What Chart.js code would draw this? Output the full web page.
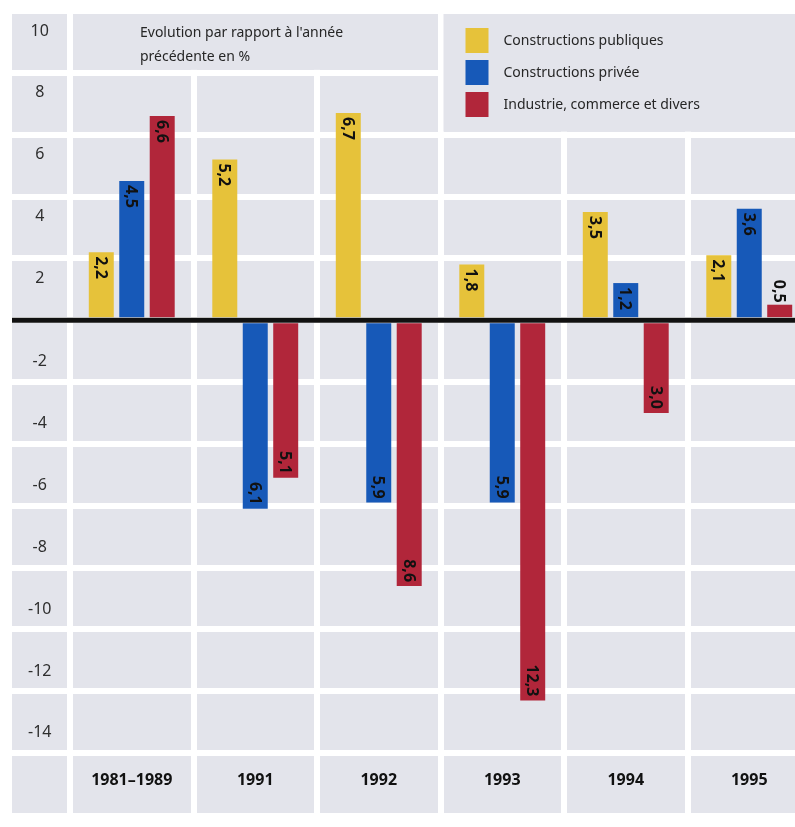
<!DOCTYPE html>
<html>
<head>
<meta charset="utf-8">
<script src="https://cdn.jsdelivr.net/npm/chart.js@4"></script>
<style>
  html, body { margin: 0; padding: 0; background: #fff; overflow: hidden; }
  #wrap { position: relative; width: 814px; height: 827px; }
</style>
</head>
<body>
<div id="wrap"><canvas id="chart"></canvas></div>
<script>
const categories = ["1981–1989", "1991", "1992", "1993", "1994", "1995"];
const seriesNames = ["Constructions publiques", "Constructions privée", "Industrie, commerce et divers"];
const publiques = [2.2, 5.2, 6.7, 1.8, 3.5, 2.1];
const privee = [4.5, -6.1, -5.9, -5.9, 1.2, 3.6];
const industrie = [6.6, -5.1, -8.6, -12.3, -3.0, 0.5];
const yTickValues = [10, 8, 6, 4, 2, -2, -4, -6, -8, -10, -12, -14];
const yTickLabels = ["10", "8", "6", "4", "2", "-2", "-4", "-6", "-8", "-10", "-12", "-14"];
const titleLines = ["Evolution par rapport à l'année", "précédente en %"];

const colors = ["#e6c23a", "#1759b8", "#b1263a"];
const panelGray = "#e3e4eb";
const TICK_Y = 58;
const TICK_X = 60;

const panelPlugin = {
  id: "panel",
  beforeDraw(chart) {
    const { ctx, chartArea } = chart;
    const y = chart.scales.y;
    ctx.save();
    ctx.fillStyle = panelGray;
    ctx.fillRect(y.left, chartArea.top, chart.width - y.left, chartArea.bottom - chartArea.top + TICK_X);
    ctx.restore();
  },
  beforeDatasetsDraw(chart) {
    const { ctx, chartArea } = chart;
    const x = chart.scales.x, y = chart.scales.y;
    const cat = x.getPixelForValue(1) - x.getPixelForValue(0);
    const split = x.getPixelForValue(3) - cat / 2;
    ctx.save();
    ctx.fillStyle = panelGray;
    // title band and legend block have no inner grid lines
    ctx.fillRect(chartArea.left + 3, chartArea.top + 3, split - chartArea.left - 6, y.getPixelForValue(8) - chartArea.top - 6);
    ctx.fillRect(split + 3, chartArea.top + 3, chart.width - split, y.getPixelForValue(6) - chartArea.top - 6);

    ctx.fillStyle = "#262626";
    ctx.font = '14px "Noto Sans"';
    ctx.textBaseline = "middle";
    ctx.textAlign = "left";
    titleLines.forEach((t, i) => ctx.fillText(t, chartArea.left + 70, chartArea.top + 22 + i * 24));

    chart.data.datasets.forEach((ds, i) => {
      const bx = split + 25, by = chartArea.top + 17 + i * 32;
      ctx.fillStyle = ds.backgroundColor;
      ctx.fillRect(bx, by, 23, 25);
      ctx.fillStyle = "#262626";
      ctx.fillText(ds.label, bx + 38, by + 13);
    });
    ctx.restore();
  },
  afterDatasetsDraw(chart) {
    const { ctx } = chart;
    const y = chart.scales.y;
    const y0 = y.getPixelForValue(0);
    ctx.save();
    ctx.strokeStyle = "#111";
    ctx.lineWidth = 5;
    ctx.beginPath();
    ctx.moveTo(y.left, y0);
    ctx.lineTo(chart.width, y0);
    ctx.stroke();

    ctx.font = 'bold 16px "Noto Sans"';
    ctx.fillStyle = "#111";
    ctx.textBaseline = "middle";
    chart.data.datasets.forEach((ds, di) => {
      chart.getDatasetMeta(di).data.forEach((bar, i) => {
        const v = ds.data[i];
        const txt = Math.abs(v).toFixed(1).replace(".", ",");
        const w = ctx.measureText(txt).width;
        const h = Math.abs(bar.base - bar.y);
        ctx.save();
        if (v >= 0) {
          if (w + 8 < h) {
            ctx.translate(bar.x, bar.y + 4);
            ctx.textAlign = "left";
          } else {
            ctx.translate(bar.x, bar.y - 2);
            ctx.textAlign = "right";
          }
        } else {
          ctx.translate(bar.x, bar.y - 4);
          ctx.textAlign = "right";
        }
        ctx.rotate(Math.PI / 2);
        ctx.fillText(txt, 0, 1);
        ctx.restore();
      });
    });
    ctx.restore();
  }
};

const ctx = document.getElementById("chart").getContext("2d");
new Chart(ctx, {
  type: "bar",
  data: {
    labels: categories,
    datasets: [
      { label: seriesNames[0], data: publiques, backgroundColor: colors[0] },
      { label: seriesNames[1], data: privee, backgroundColor: colors[1] },
      { label: seriesNames[2], data: industrie, backgroundColor: colors[2] }
    ]
  },
  options: {
    responsive: true,
    maintainAspectRatio: false,
    animation: false,
    layout: { padding: { left: 12, top: 11, right: 3, bottom: 14 } },
    datasets: {
      bar: { categoryPercentage: 0.74, barPercentage: 0.82 }
    },
    plugins: {
      legend: { display: false },
      tooltip: { enabled: false }
    },
    scales: {
      x: {
        offset: true,
        border: { display: false },
        grid: { color: "#fff", lineWidth: 6, tickLength: TICK_X, tickColor: "#fff" },
        afterFit(scale) {
          scale.height = TICK_X;
        },
        ticks: {
          padding: -42,
          maxRotation: 0,
          autoSkip: false,
          color: "#111",
          font: { family: "Noto Sans", size: 16, weight: "bold" }
        }
      },
      y: {
        min: -14,
        max: 10,
        weight: 1,
        border: { display: false },
        grid: { color: "#fff", lineWidth: 6, tickLength: TICK_Y, tickColor: "#fff" },
        ticks: { stepSize: 2, display: false }
      },
      yl: {
        type: "linear",
        position: "left",
        min: -14,
        max: 10,
        weight: 2,
        border: { display: false },
        grid: { display: false, drawTicks: false },
        afterBuildTicks(scale) {
          scale.ticks = yTickValues.map(v => ({ value: v - Math.sign(v) * 0.65 }));
        },
        afterFit(scale) {
          scale.width = 0;
          scale.paddingTop = 0;
          scale.paddingBottom = 0;
        },
        ticks: {
          autoSkip: false,
          mirror: true,
          padding: 16,
          crossAlign: "center",
          color: "#2e2e2e",
          font: { family: "Noto Sans", size: 16 },
          callback: (value, index) => yTickLabels[index]
        }
      }
    }
  },
  plugins: [panelPlugin]
});
</script>
</body>
</html>
